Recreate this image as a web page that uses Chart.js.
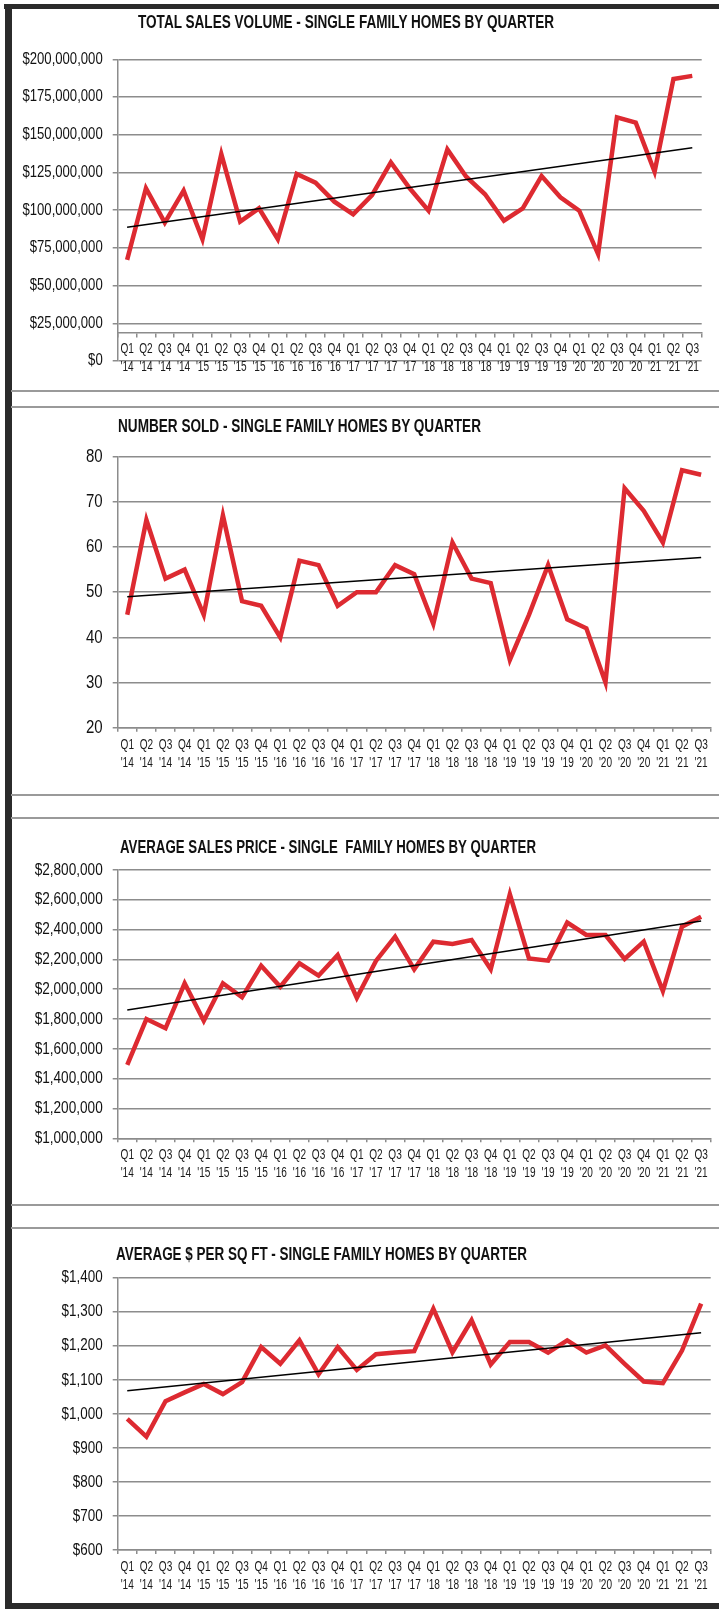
<!DOCTYPE html>
<html lang="en">
  <head>
    <meta charset="UTF-8" />
    <title>Single Family Homes by Quarter</title>
    <script src="https://cdn.jsdelivr.net/npm/chart.js"></script>
    <style>
      body { margin: 0; background: #fff; width: 719px; height: 1609px; position: relative; overflow: hidden; }
      .dark { position: absolute; background: #2b2b2b; }
      .sep { position: absolute; left: 11px; right: 0; height: 2px; background: #9a9a9a; }
      canvas { position: absolute; left: 12px; }
      .title {
        position: absolute;
        font: bold 18px "Liberation Sans", Arial, sans-serif;
        line-height: 18px;
        white-space: pre;
        color: #111;
        transform-origin: 0 0;
      }
    </style>
  </head>
  <body>
    <div class="dark" style="left:4px; top:4px; right:0; height:5px"></div>
    <div class="dark" style="left:5px; top:4px; width:7px; bottom:0"></div>
    <div class="dark" style="left:5px; right:0; top:1603px; height:6px"></div>

    <div class="sep" style="top:390px"></div>
    <div class="sep" style="top:406px"></div>
    <div class="sep" style="top:794px"></div>
    <div class="sep" style="top:817px"></div>
    <div class="sep" style="top:1204px"></div>
    <div class="sep" style="top:1227px"></div>

    <canvas id="volumeChart" width="707" height="379" style="top:12px"></canvas>
    <canvas id="soldChart" width="707" height="388" style="top:407px"></canvas>
    <canvas id="priceChart" width="707" height="387" style="top:818px"></canvas>
    <canvas id="sqftChart" width="707" height="375" style="top:1228px"></canvas>

    <div class="title" data-w="416" style="left:138px; top:13px">TOTAL SALES VOLUME - SINGLE FAMILY HOMES BY QUARTER</div>
    <div class="title" data-w="363" style="left:118px; top:417px">NUMBER SOLD - SINGLE FAMILY HOMES BY QUARTER</div>
    <div class="title" data-w="416" style="left:120px; top:838px">AVERAGE SALES PRICE - SINGLE  FAMILY HOMES BY QUARTER</div>
    <div class="title" data-w="411" style="left:116px; top:1245px">AVERAGE $ PER SQ FT - SINGLE FAMILY HOMES BY QUARTER</div>

    <script>
      const quarters = ["Q1","Q2","Q3","Q4","Q1","Q2","Q3","Q4","Q1","Q2","Q3","Q4","Q1","Q2","Q3","Q4",
                        "Q1","Q2","Q3","Q4","Q1","Q2","Q3","Q4","Q1","Q2","Q3","Q4","Q1","Q2","Q3"];
      const years = ["'14","'14","'14","'14","'15","'15","'15","'15","'16","'16","'16","'16","'17","'17","'17","'17",
                     "'18","'18","'18","'18","'19","'19","'19","'19","'20","'20","'20","'20","'21","'21","'21"];

      const totalVolume = [67000000, 114500000, 91700000, 112900000, 80700000, 137200000, 92400000, 101200000,
                           80700000, 124000000, 118200000, 105600000, 97200000, 110000000, 131700000, 114500000,
                           99700000, 140300000, 122200000, 110500000, 93000000, 101200000, 122600000, 108500000,
                           99700000, 70900000, 161500000, 158000000, 125500000, 187000000, 189000000];
      const volumeTrend = [88600000, 141400000];

      const numberSold = [45, 66, 53, 55, 45, 67, 48, 47, 40, 57, 56, 47, 50, 50, 56, 54,
                          43, 61, 53, 52, 35, 45, 56, 44, 42, 30, 73, 68, 61, 77, 76];
      const soldTrend = [49, 57.7];

      const avgPrice = [1492000, 1800000, 1738000, 2040000, 1789000, 2040000, 1946000, 2158000,
                        2017000, 2174000, 2091000, 2230000, 1943000, 2190000, 2353000, 2134000,
                        2319000, 2304000, 2330000, 2134000, 2637000, 2207000, 2192000, 2447000,
                        2364000, 2364000, 2203000, 2319000, 1988000, 2420000, 2487000];
      const priceTrend = [1861000, 2458000];

      const pricePerSqft = [985, 933, 1037, 1063, 1088, 1058, 1093, 1196, 1147, 1216, 1116, 1196, 1129, 1175, 1180, 1184,
                            1309, 1181, 1275, 1145, 1211, 1211, 1180, 1216, 1180, 1201, 1147, 1095, 1090, 1186, 1324];
      const sqftTrend = [1068, 1238];

      const labels = quarters.map((q, i) => [q, years[i]]);
      const FONT = "'Liberation Sans', Arial, sans-serif";
      const GRID = "#8c8c8c";

      function commas(v) {
        return String(v).replace(/\B(?=(\d{3})+(?!\d))/g, ",");
      }

      // trend line: only the two end points, joined straight across the gap
      function trendData(ends) {
        return labels.map((_, i) => (i === 0 ? ends[0] : i === labels.length - 1 ? ends[1] : null));
      }

      // the original uses a condensed face; squeeze tick text horizontally around its anchor
      const squeezeText = {
        id: "squeezeText",
        beforeDraw(chart, args, opts) {
          const ctx = chart.ctx;
          if (ctx.squeezed) return;
          const fill = CanvasRenderingContext2D.prototype.fillText;
          ctx.fillText = function (text, x, y, maxWidth) {
            const sx = ctx.textAlign === "right" ? opts.y : opts.x;
            ctx.save();
            ctx.translate(x, y);
            ctx.scale(sx, 1);
            if (maxWidth === undefined) fill.call(ctx, text, 0, 0);
            else fill.call(ctx, text, 0, 0, maxWidth / sx);
            ctx.restore();
          };
          ctx.squeezed = true;
        },
      };

      function makeChart(id, values, trend, y, layout) {
        const xAxis = {
          type: "category",
          offset: true,
          grid: { display: true, drawOnChartArea: false, offset: true, tickLength: 4, color: GRID, lineWidth: 1.5 },
          border: { color: GRID, width: 1.5 },
          ticks: { autoSkip: false, maxRotation: 0, minRotation: 0, padding: 4, color: "#1a1a1a",
                   font: { family: FONT, size: 14, lineHeight: 18 / 14 } },
        };
        if (layout.xAt !== undefined) {
          xAxis.position = { y: layout.xAt };
        } else {
          xAxis.afterFit = (s) => { s.height = 50; };
        }

        new Chart(document.getElementById(id), {
          type: "line",
          data: {
            labels: labels,
            datasets: [
              { data: trendData(trend), borderColor: "#000", borderWidth: 1.5, pointRadius: 0, spanGaps: true, tension: 0 },
              { data: values, borderColor: "#dd2a31", borderWidth: 4.5, pointRadius: 0, tension: 0 },
            ],
          },
          options: {
            responsive: false,
            animation: false,
            layout: { padding: { left: 0, top: layout.top, right: layout.right, bottom: layout.bottom } },
            plugins: {
              legend: { display: false },
              tooltip: { enabled: false },
              title: { display: false },
              squeezeText: { x: 0.72, y: y.squeeze },
            },
            scales: {
              x: xAxis,
              y: {
                min: y.min,
                max: y.max,
                afterFit: (s) => { s.width = 105.7; },
                grid: { color: GRID, lineWidth: 1.5, tickLength: 5 },
                border: { color: GRID, width: 1.5 },
                ticks: { stepSize: y.step, padding: 10, color: "#111", font: { family: FONT, size: y.font },
                         callback: y.format },
              },
            },
          },
          plugins: [squeezeText],
        });
      }

      makeChart("volumeChart", totalVolume, volumeTrend,
        { min: 0, max: 200000000, step: 25000000, font: 16, squeeze: 0.82, format: (v) => "$" + commas(v) },
        { top: 47.3, right: 17.3, bottom: 30, xAt: 19000000 });

      makeChart("soldChart", numberSold, soldTrend,
        { min: 20, max: 80, step: 10, font: 19, squeeze: 0.79, format: (v) => String(v) },
        { top: 49.7, right: 8.3, bottom: 17.3 });

      makeChart("priceChart", avgPrice, priceTrend,
        { min: 1000000, max: 2800000, step: 200000, font: 17, squeeze: 0.8, format: (v) => "$" + commas(v) },
        { top: 52, right: 8.3, bottom: 16.7 });

      makeChart("sqftChart", pricePerSqft, sqftTrend,
        { min: 600, max: 1400, step: 100, font: 17, squeeze: 0.79, format: (v) => "$" + commas(v) },
        { top: 49.7, right: 8.3, bottom: 3 });

      // squeeze each heading to the width it has in the original
      document.querySelectorAll(".title").forEach((el) => {
        const w = el.getBoundingClientRect().width;
        el.style.transform = "scaleX(" + (Number(el.dataset.w) / w) + ")";
      });
    </script>
  </body>
</html>
